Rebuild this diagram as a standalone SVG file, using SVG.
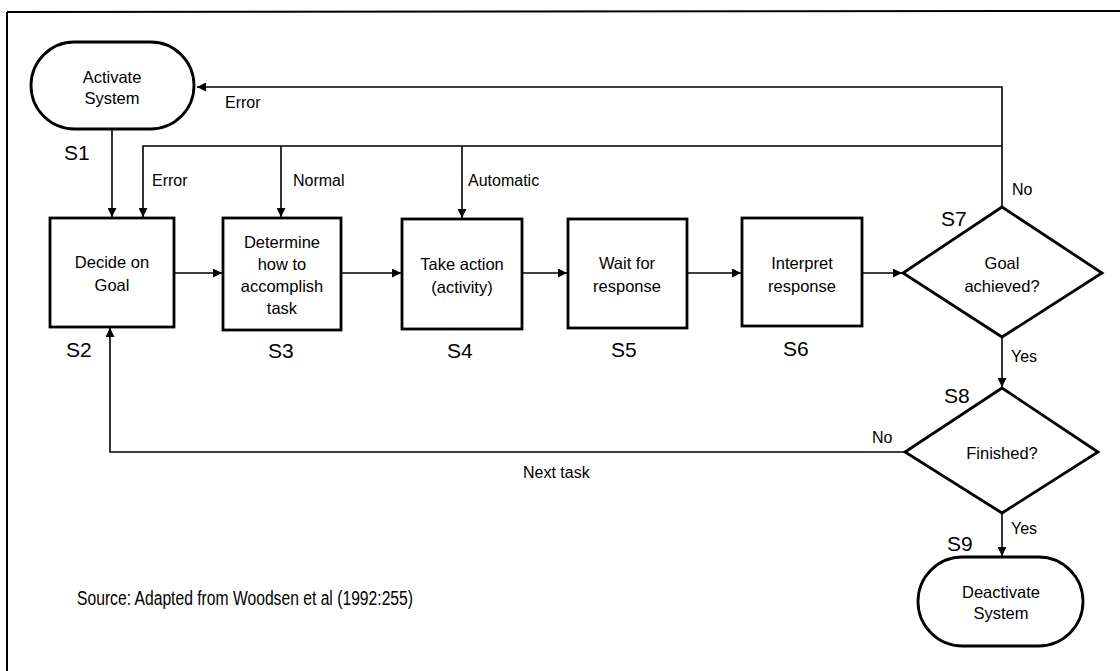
<svg xmlns="http://www.w3.org/2000/svg" width="1120" height="671" viewBox="0 0 1120 671">
<style>
.node{fill:#fff;stroke:#000;stroke-width:2.8}
.t{font-family:"Liberation Sans",Arial,sans-serif;font-size:16.5px;fill:#000;text-anchor:middle}
.el{font-family:"Liberation Sans",Arial,sans-serif;font-size:16px;fill:#000}
.s{font-family:"Liberation Sans",Arial,sans-serif;font-size:21px;fill:#000}
.c{fill:none;stroke:#000;stroke-width:1.6}
</style>
<defs>
<marker id="ah" viewBox="0 0 10 10" refX="10" refY="5" markerWidth="9" markerHeight="9" markerUnits="userSpaceOnUse" orient="auto"><path d="M0,0 L10,5 L0,10 z" fill="#000"/></marker>
</defs>
<rect width="1120" height="671" fill="#fff"/>
<g id="frame" fill="none" stroke="#000" stroke-width="2">
<line x1="7" y1="12" x2="1120" y2="11"/>
<line x1="7" y1="12" x2="7" y2="671"/>
</g>
<g id="connectors">
<path class="c" d="M112,129 V217" marker-end="url(#ah)"/>
<path class="c" d="M1002,207 V87 H197" marker-end="url(#ah)"/>
<path class="c" d="M1002,146 H143 V217" marker-end="url(#ah)"/>
<path class="c" d="M281,146 V217" marker-end="url(#ah)"/>
<path class="c" d="M462,146 V218" marker-end="url(#ah)"/>
<path class="c" d="M174,273 H222" marker-end="url(#ah)"/>
<path class="c" d="M341,273 H401" marker-end="url(#ah)"/>
<path class="c" d="M522,273 H567" marker-end="url(#ah)"/>
<path class="c" d="M687,273 H741" marker-end="url(#ah)"/>
<path class="c" d="M862,273 H902" marker-end="url(#ah)"/>
<path class="c" d="M1002,337 V387" marker-end="url(#ah)"/>
<path class="c" d="M905,452 H110 V328" marker-end="url(#ah)"/>
<path class="c" d="M1002,513 V556" marker-end="url(#ah)"/>
<text class="el" x="225" y="108">Error</text>
<text class="el" x="152" y="186">Error</text>
<text class="el" x="293" y="186">Normal</text>
<text class="el" x="468" y="186">Automatic</text>
<text class="el" x="1012" y="195">No</text>
<text class="el" x="1011" y="362">Yes</text>
<text class="el" x="872" y="443">No</text>
<text class="el" x="523" y="478">Next task</text>
<text class="el" x="1011" y="534">Yes</text>
</g>
<g id="S1">
<rect class="node" x="31" y="42" width="163" height="87" rx="43.5" ry="43.5"/>
<text class="t" x="112" y="83">Activate</text>
<text class="t" x="112" y="104">System</text>
<text class="s" x="64" y="160">S1</text>
</g>
<g id="S2">
<rect class="node" x="50" y="218" width="124" height="109"/>
<text class="t" x="112" y="268">Decide on</text>
<text class="t" x="112" y="291">Goal</text>
<text class="s" x="66" y="357">S2</text>
</g>
<g id="S3">
<rect class="node" x="223" y="218" width="118" height="112"/>
<text class="t" x="282" y="248">Determine</text>
<text class="t" x="282" y="270">how to</text>
<text class="t" x="282" y="292">accomplish</text>
<text class="t" x="282" y="314">task</text>
<text class="s" x="268" y="358">S3</text>
</g>
<g id="S4">
<rect class="node" x="402" y="219" width="120" height="110"/>
<text class="t" x="462" y="270">Take action</text>
<text class="t" x="462" y="293">(activity)</text>
<text class="s" x="447" y="358">S4</text>
</g>
<g id="S5">
<rect class="node" x="568" y="219" width="119" height="109"/>
<text class="t" x="627" y="269">Wait for</text>
<text class="t" x="627" y="292">response</text>
<text class="s" x="611" y="357">S5</text>
</g>
<g id="S6">
<rect class="node" x="742" y="218" width="120" height="108"/>
<text class="t" x="802" y="269">Interpret</text>
<text class="t" x="802" y="292">response</text>
<text class="s" x="783" y="356">S6</text>
</g>
<g id="S7">
<polygon class="node" points="1002,207 1102,273 1002,337 903,273"/>
<text class="t" x="1002" y="269">Goal</text>
<text class="t" x="1002" y="292">achieved?</text>
<text class="s" x="941" y="226">S7</text>
</g>
<g id="S8">
<polygon class="node" points="1002,388 1098,452 1002,513 905,452"/>
<text class="t" x="1002" y="459">Finished?</text>
<text class="s" x="944" y="403">S8</text>
</g>
<g id="S9">
<rect class="node" x="918" y="557" width="165" height="89" rx="44.5" ry="44.5"/>
<text class="t" x="1001" y="598">Deactivate</text>
<text class="t" x="1001" y="619">System</text>
<text class="s" x="947" y="551">S9</text>
</g>
<g id="source">
<text x="77" y="605" font-family="'Liberation Sans',Arial,sans-serif" font-size="20" textLength="336" lengthAdjust="spacingAndGlyphs">Source: Adapted from Woodsen et al (1992:255)</text>
</g>
</svg>
